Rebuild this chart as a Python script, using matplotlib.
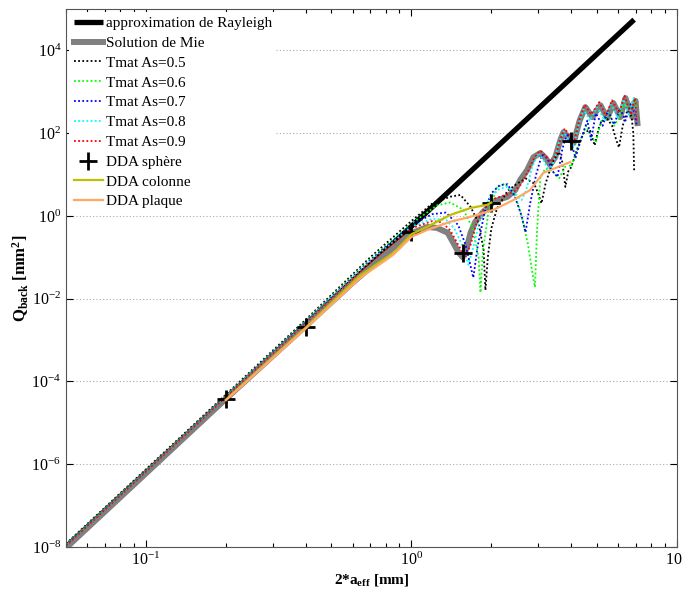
import numpy as np
import matplotlib
matplotlib.use("Agg")
import matplotlib.pyplot as plt
from matplotlib.ticker import LogLocator, NullLocator

plt.rcParams['font.family'] = ['Liberation Serif', 'DejaVu Serif']
plt.rcParams['mathtext.fontset'] = 'custom'
plt.rcParams['mathtext.rm'] = 'Liberation Serif'
plt.rcParams['mathtext.it'] = 'Liberation Serif:italic'
plt.rcParams['mathtext.bf'] = 'Liberation Serif:bold'
plt.rcParams['axes.unicode_minus'] = False

# Rayleigh approximation (straight line in log-log)
rayleigh_d = [0.05, 6.9]
rayleigh_q = [1.0e-8, 5.5e4]

# Mie solution
mie_d = [0.05, 0.1, 0.2, 0.4, 0.6, 0.8, 1.0, 1.15, 1.25, 1.37, 1.44, 1.50, 1.56, 1.62,
         1.67, 1.74, 1.85, 1.95, 2.04, 2.3, 2.46, 2.57, 2.73, 2.88, 3.06, 3.2, 3.33,
         3.48, 3.64, 3.74, 3.9, 4.08, 4.3, 4.52, 4.8, 5.15, 5.47, 5.76, 6.12, 6.4,
         6.8, 6.98, 7.1]
mie_q = [9.5e-9, 6.0e-7, 3.8e-5, 2.2e-3, 0.024, 0.12, 0.38, 0.54, 0.51, 0.39, 0.22,
         0.135, 0.10, 0.18, 0.39, 0.72, 1.18, 1.65, 2.2, 2.9, 4.2, 7.4, 12.8, 26, 33,
         25, 17, 26, 68, 105, 80, 57, 200, 424, 243, 470, 230, 530, 243, 700, 243,
         600, 174]

# T-matrix, aspect ratio 0.5 .. 0.9
t05_d = [0.05, 0.1, 0.2, 0.4, 0.7, 1.0, 1.2, 1.4, 1.53, 1.67, 1.79, 1.87, 1.9, 1.94,
         2.0, 2.1, 2.3, 2.5, 2.7, 2.9, 3.0, 3.09, 3.2, 3.4, 3.6, 3.7, 3.8, 3.9, 4.0,
         4.2, 4.45, 4.7, 4.9, 5.1, 5.4, 5.7, 5.9, 6.05, 6.25, 6.5, 6.75, 6.85, 6.9]
t05_q = [1.2e-8, 7.5e-7, 4.8e-5, 3.1e-3, 0.1, 0.75, 2.0, 2.9, 3.2, 1.65, 0.68, 0.15,
         0.016, 0.1, 0.5, 1.5, 4.0, 6.0, 8.0, 6.0, 3.5, 2.0, 6, 20, 35, 20, 5, 12, 15,
         40, 100, 120, 50, 150, 250, 150, 70, 45, 150, 350, 250, 100, 12]

t06_d = [0.05, 0.1, 0.2, 0.4, 0.7, 1.0, 1.25, 1.4, 1.57, 1.71, 1.79, 1.82, 1.86, 1.95,
         2.1, 2.25, 2.46, 2.6, 2.75, 2.88, 2.92, 2.97, 3.06, 3.2, 3.4, 3.6, 3.86, 4.0,
         4.15, 4.35, 4.55, 4.75, 4.95, 5.2, 5.5, 5.8, 6.1, 6.3, 6.6, 6.9, 7.05]
t06_q = [1.15e-8, 7e-7, 4.5e-5, 2.9e-3, 0.09, 0.65, 1.8, 2.1, 1.4, 0.46, 0.1, 0.014,
         0.15, 1.2, 5.0, 6.0, 3.0, 1.0, 0.2, 0.03, 0.019, 0.4, 8.7, 14, 12, 8, 19, 15,
         30, 70, 150, 80, 60, 200, 350, 150, 250, 500, 400, 700, 400]

t07_d = [0.05, 0.1, 0.2, 0.4, 0.7, 1.0, 1.2, 1.35, 1.5, 1.6, 1.71, 1.78, 1.9, 2.0,
         2.15, 2.3, 2.45, 2.6, 2.69, 2.8, 2.95, 3.1, 3.25, 3.4, 3.55, 3.7, 3.85, 4.0,
         4.15, 4.35, 4.6, 4.75, 4.95, 5.25, 5.5, 5.8, 6.1, 6.4, 6.7, 6.95, 7.05]
t07_q = [1.1e-8, 6.8e-7, 4.4e-5, 2.8e-3, 0.085, 0.6, 1.1, 1.2, 0.6, 0.2, 0.032, 0.2,
         1.5, 3.5, 5.5, 5.8, 3.0, 1.0, 0.4, 2.0, 10, 30, 25, 12, 8.7, 40, 100, 60, 25,
         70, 200, 68, 300, 150, 350, 160, 400, 200, 500, 300, 150]

t08_d = [0.05, 0.1, 0.2, 0.4, 0.7, 1.0, 1.2, 1.35, 1.45, 1.55, 1.64, 1.7, 1.8, 1.9,
         2.0, 2.15, 2.3, 2.45, 2.6, 2.7, 2.85, 3.0, 3.15, 3.3, 3.45, 3.6, 3.75, 3.9,
         4.05, 4.25, 4.45, 4.7, 5.0, 5.35, 5.65, 6.0, 6.3, 6.6, 6.9, 7.0]
t08_q = [1.05e-8, 6.7e-7, 4.3e-5, 2.7e-3, 0.08, 0.55, 0.85, 0.8, 0.5, 0.2, 0.066,
         0.15, 0.7, 1.8, 3.0, 4.5, 5.0, 3.5, 2.4, 4, 15, 32, 22, 12, 22, 60, 110, 70,
         40, 150, 380, 200, 430, 200, 500, 230, 650, 260, 750, 250]

t09_d = [0.05, 0.1, 0.2, 0.4, 0.7, 1.0, 1.2, 1.3, 1.4, 1.5, 1.6, 1.67, 1.75, 1.85,
         1.95, 2.05, 2.3, 2.45, 2.6, 2.75, 2.9, 3.05, 3.2, 3.35, 3.5, 3.65, 3.78, 3.95,
         4.1, 4.3, 4.5, 4.75, 5.1, 5.4, 5.7, 6.05, 6.35, 6.7, 6.95, 7.05]
t09_q = [1.05e-8, 6.6e-7, 4.2e-5, 2.6e-3, 0.075, 0.5, 0.75, 0.7, 0.45, 0.2, 0.1, 0.2,
         0.6, 1.3, 2.0, 2.6, 3.3, 4.0, 6.0, 12, 25, 38, 28, 20, 30, 75, 130, 85, 60,
         220, 480, 280, 560, 260, 620, 300, 800, 280, 700, 200]

# DDA
sphere_d = [0.2, 0.4, 1.0, 1.56, 2.0, 4.0]
sphere_q = [3.7e-5, 2.1e-3, 0.4, 0.13, 2.0, 64]

colonne_d = [0.2, 0.4, 0.64, 0.86, 1.0, 1.15, 1.4, 1.67, 1.93, 2.0]
colonne_q = [3.6e-5, 2.0e-3, 0.036, 0.13, 0.36, 0.55, 1.05, 1.55, 1.85, 2.1]

plaque_d = [0.2, 0.4, 0.643, 0.855, 1.0, 1.15, 1.4, 1.67, 2.04, 2.42, 2.8, 3.14, 3.55, 3.97]
plaque_q = [3.5e-5, 1.9e-3, 0.032, 0.115, 0.31, 0.46, 0.72, 0.95, 1.4, 2.4, 4.2, 10.9, 15, 20]

tmat = [(t05_d, t05_q, 'k', 'Tmat As=0.5'),
        (t06_d, t06_q, '#00ff00', 'Tmat As=0.6'),
        (t07_d, t07_q, '#0000ff', 'Tmat As=0.7'),
        (t08_d, t08_q, '#00ffff', 'Tmat As=0.8'),
        (t09_d, t09_q, '#ff0000', 'Tmat As=0.9')]

fig = plt.figure(figsize=(6.83, 5.93), dpi=100)
ax = fig.add_axes([0.0966, 0.0776, 0.8945, 0.9074])

ax.loglog(rayleigh_d, rayleigh_q, color='k', lw=3.8, solid_capstyle='butt',
          label='approximation de Rayleigh')
ax.loglog(mie_d, mie_q, color='#808080', lw=4.3, label='Solution de Mie')
for d, q, c, lab in tmat:
    ax.loglog(d, q, color=c, lw=1.3, ls=(0, (1, 1.3)), label=lab)
ax.loglog(sphere_d, sphere_q, ls='none', marker='+', ms=13, mew=2, color='k',
          label='DDA sphère')
ax.loglog(colonne_d, colonne_q, color='#bfbf00', lw=1.6, label='DDA colonne')
ax.loglog(plaque_d, plaque_q, color='#ffa866', lw=1.6, label='DDA plaque')

ax.set_xlim(0.05, 10)
ax.set_ylim(1e-8, 1e5)
ax.set_yticks([1e-8, 1e-6, 1e-4, 1e-2, 1e0, 1e2, 1e4])
ax.yaxis.set_minor_locator(NullLocator())
ax.xaxis.set_minor_locator(LogLocator(base=10, subs=np.arange(2, 10)))
ax.tick_params(which='both', direction='in', top=True, right=True, labelsize=11.5)
ax.tick_params(which='major', length=5, width=0.8)
ax.tick_params(which='minor', length=3, width=0.8)
for s in ax.spines.values():
    s.set_color('#555555')
ax.grid(True, axis='y', which='major', ls=(0, (1, 2)), color='#aaaaaa', lw=0.8)

ax.set_xlabel(r'2*a$_{\mathbf{eff}}$ [mm]', fontweight='bold', fontsize=11, labelpad=2)
ax.set_ylabel(r'Q$_{\mathbf{back}}$ [mm$^{\mathbf{2}}$]', fontweight='bold', fontsize=12)
ax.yaxis.set_label_coords(-0.058, 0.5)

leg = ax.legend(loc='upper left', fontsize=11, frameon=True, fancybox=False,
                edgecolor='none', facecolor='white', framealpha=1,
                handlelength=1.9, handletextpad=0.2, labelspacing=0.4,
                borderpad=0.3, borderaxespad=0.2)

fig.savefig('out.png', dpi=100)
